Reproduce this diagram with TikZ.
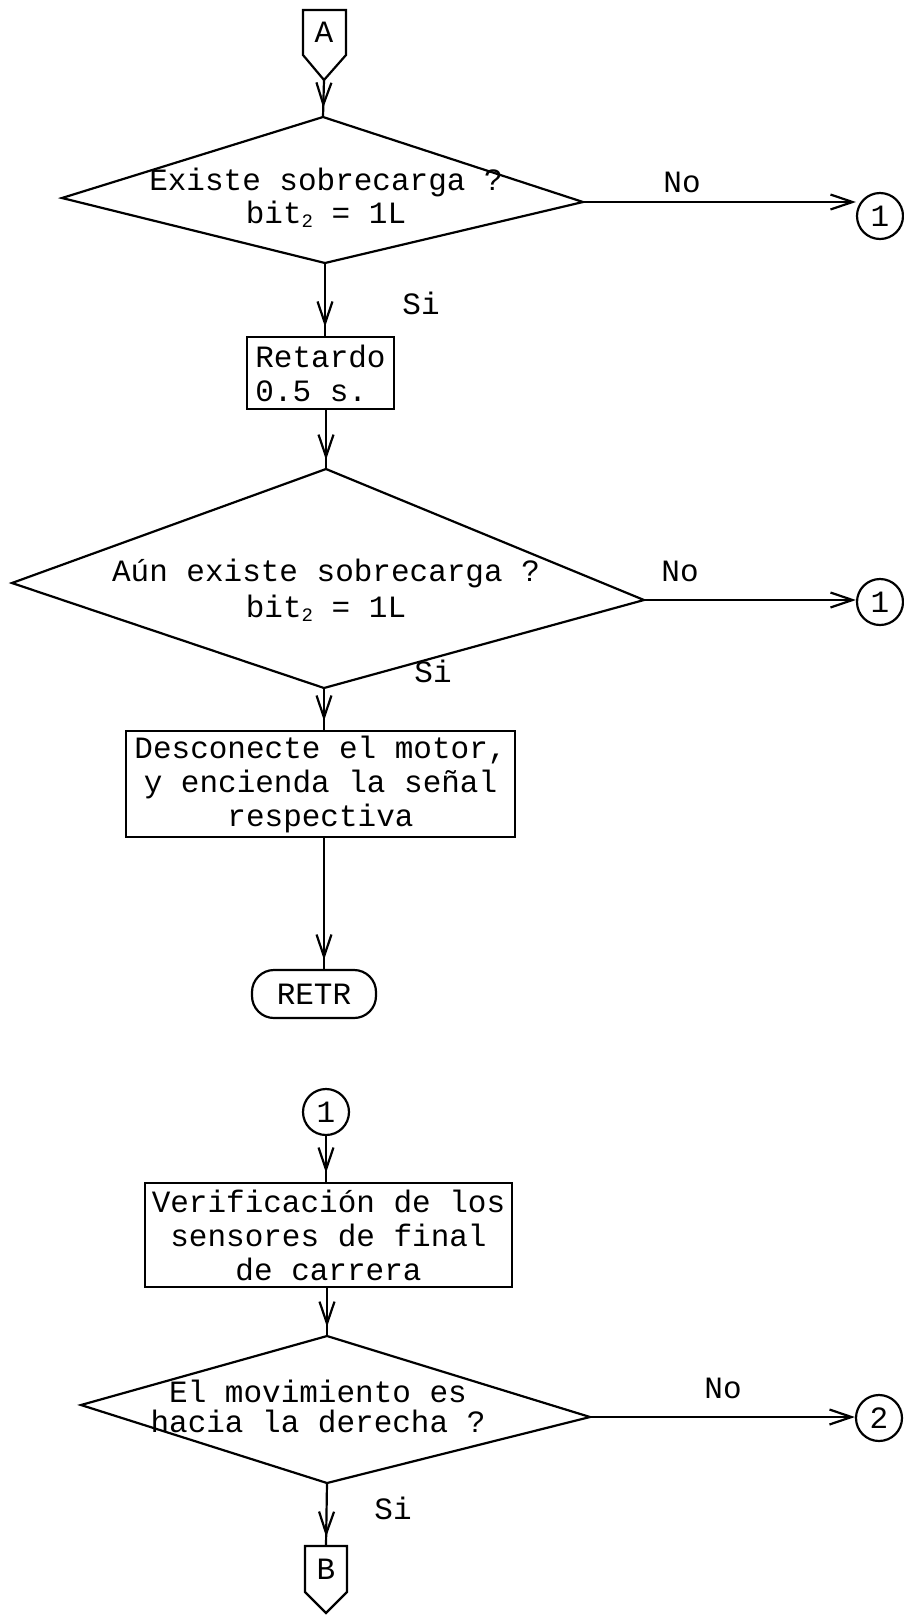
\documentclass[tikz,border=0pt]{standalone}
\usepackage{fontspec}
\setmainfont{Liberation Mono}
\usetikzlibrary{arrows.meta,decorations.markings,calc}
\begin{document}
\begin{tikzpicture}[x=1pt,y=-1pt,
  every path/.style={line width=2.2pt},
  txt/.style={font=\fontsize{31}{33}\selectfont, align=center, inner sep=0pt},
  lbl/.style={font=\fontsize{31}{33}\selectfont, inner sep=0pt},
  procbox/.style={draw, line width=2.2pt, font=\fontsize{31}{34}\selectfont, align=center, inner sep=0pt},
  conn/.style={draw, circle, line width=2.2pt, minimum size=46pt, inner sep=0pt, font=\fontsize{31}{33}\selectfont},
  flow/.style={draw, line width=2.2pt, postaction={decorate},
    decoration={markings, mark=at position -9pt with {\arrow{Straight Barb[length=22pt,width=15pt,line width=2.2pt]}}}},
  hflow/.style={draw, line width=2.2pt, -{Straight Barb[length=22pt,width=15pt,line width=2.2pt]}}
]
\path[use as bounding box] (0,0) rectangle (904,1615);
\newcommand{\bitdos}{bit\raisebox{-0.12em}{\fontsize{19}{19}\selectfont 2}}

% off-page connector A
\coordinate (Atl) at (303,10);
\coordinate (Atr) at (346,10);
\coordinate (Abr) at (346,55);
\coordinate (Ap) at (324,80);
\coordinate (Abl) at (303,55);
\draw (Atl) -- (Atr) -- (Abr) -- (Ap) -- (Abl) -- cycle;
\node[lbl] (Alab) at (324,32) {A};

% decision 1
\coordinate (d1t) at (323,117);
\coordinate (d1l) at (62,198);
\coordinate (d1r) at (583,202);
\coordinate (d1b) at (325,263);
\draw (d1t) -- (d1r) -- (d1b) -- (d1l) -- cycle;
\node[txt] (d1txt) at (326,198) {Existe sobrecarga ?\\\bitdos{} = 1L};
\node[conn] (c1a) at (880,216) {1};
\node[lbl] (no1) at (682,182) {No};
\node[lbl] (si1) at (421,303) {Si};

% delay box
\node[procbox, minimum width=147pt, minimum height=72pt, align=left] (ret) at (320.5,373) {Retardo\\0.5 s.};

% decision 2
\coordinate (d2t) at (326,469);
\coordinate (d2l) at (12,583);
\coordinate (d2r) at (644,600);
\coordinate (d2b) at (324,688);
\draw (d2t) -- (d2r) -- (d2b) -- (d2l) -- cycle;
\node[txt, font=\fontsize{31}{36}\selectfont] (d2txt) at (326,590) {Aún existe sobrecarga ?\\\bitdos{} = 1L};
\node[conn] (c1b) at (880,602) {1};
\node[lbl] (no2) at (680,571) {No};
\node[lbl] (si2) at (433,671) {Si};

% action box
\node[procbox, minimum width=389pt, minimum height=106pt] (desc) at (320.5,784) {Desconecte el motor,\\y encienda la señal\\respectiva};

% terminator
\node[draw, line width=2.2pt, rounded corners=22pt, minimum width=124pt, minimum height=48pt, inner sep=0pt, font=\fontsize{31}{33}\selectfont] (retr) at (314,994) {RETR};

% connector 1 (lower part)
\node[conn] (c1c) at (326,1112) {1};
\node[procbox, minimum width=367pt, minimum height=104pt] (ver) at (328.5,1235) {Verificación de los\\sensores de final\\de carrera};

% decision 3
\coordinate (d3t) at (327,1336);
\coordinate (d3l) at (81,1405);
\coordinate (d3r) at (590,1417);
\coordinate (d3b) at (327,1483);
\draw (d3t) -- (d3r) -- (d3b) -- (d3l) -- cycle;
\node[txt, font=\fontsize{31}{30}\selectfont] (d3txt) at (318,1406) {El movimiento es\\hacia la derecha ?};
\node[conn] (c2) at (879,1418) {2};
\node[lbl] (no3) at (723,1388) {No};
\node[lbl] (si3) at (393,1508) {Si};

% off-page connector B
\coordinate (Btl) at (305,1546);
\coordinate (Btr) at (347,1546);
\coordinate (Bbr) at (347,1592);
\coordinate (Bp) at (326,1613);
\coordinate (Bbl) at (305,1592);
\coordinate (Bt) at (326,1546);
\draw (Btl) -- (Btr) -- (Bbr) -- (Bp) -- (Bbl) -- cycle;
\node[lbl] (Blab) at (326,1569) {B};

% connectors
\path[flow] (Ap) -- (d1t);
\path[hflow] (d1r) -- (d1r -| c1a.west);
\path[flow] (d1b) -- (d1b |- ret.north);
\path[flow] (d2t |- ret.south) -- (d2t);
\path[hflow] (d2r) -- (d2r -| c1b.west);
\path[flow] (d2b) -- (d2b |- desc.north);
\path[flow] (d2b |- desc.south) -- (d2b |- retr.north);
\path[flow] (c1c.south) -- (c1c.south |- ver.north);
\path[flow] (d3t |- ver.south) -- (d3t);
\path[hflow] (d3r) -- (d3r -| c2.west);
\path[flow] (d3b) -- (Bt);
\end{tikzpicture}
\end{document}
